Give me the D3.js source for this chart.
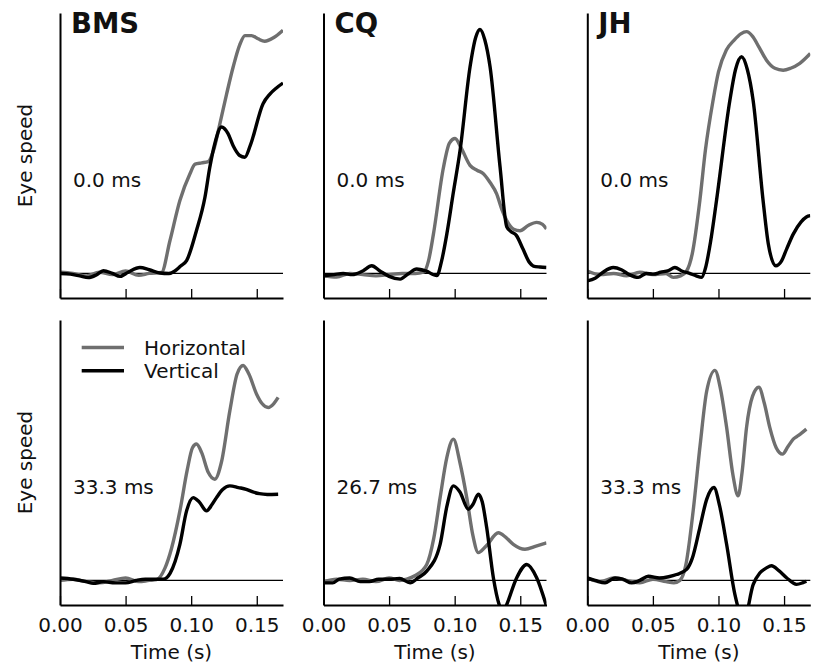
<!DOCTYPE html>
<html>
<head>
<meta charset="utf-8">
<script src="https://cdn.jsdelivr.net/npm/d3@7"></script>
<style>
  body { margin: 0; background: #fff; }
  svg text { font-family: "DejaVu Sans", sans-serif; fill: #111; }
</style>
</head>
<body>
<svg id="chart" width="813" height="665"></svg>
<script>
// Eye speed traces, [time (s), speed (arbitrary units)]
const subjects = ["BMS", "CQ", "JH"];
const delaysTop = ["0.0 ms", "0.0 ms", "0.0 ms"];
const delaysBottom = ["33.3 ms", "26.7 ms", "33.3 ms"];
const xTicks = [0.00, 0.05, 0.10, 0.15];
const seriesNames = ["Horizontal", "Vertical"];

const bmsTopH = [[0,0.005],[0.01,0.0],[0.02,-0.01],[0.03,0.005],[0.04,-0.005],[0.05,0.01],[0.06,-0.008],[0.068,0.0],[0.0774,0.004],[0.0838,0.133],[0.0914,0.297],[0.099,0.405],[0.103,0.445],[0.108,0.45],[0.113,0.455],[0.117,0.5],[0.1219,0.61],[0.127,0.73],[0.132,0.84],[0.137,0.93],[0.141,0.968],[0.146,0.968],[0.151,0.955],[0.156,0.945],[0.163,0.96],[0.17,0.99]];
const bmsTopV = [[0,0.0],[0.008,-0.003],[0.015,-0.01],[0.0216,-0.017],[0.028,-0.005],[0.033,0.011],[0.04,0.0],[0.0457,-0.012],[0.052,0.005],[0.0609,0.024],[0.068,0.015],[0.0761,0.002],[0.083,0.0],[0.0876,0.01],[0.092,0.03],[0.0965,0.052],[0.104,0.174],[0.1105,0.31],[0.1142,0.432],[0.118,0.528],[0.1231,0.596],[0.128,0.57],[0.132,0.52],[0.137,0.48],[0.1409,0.473],[0.145,0.52],[0.1548,0.691],[0.16,0.73],[0.165,0.755],[0.17,0.775]];

const cqTopH = [[0,-0.01],[0.01,-0.015],[0.02,0.0],[0.03,-0.005],[0.04,-0.01],[0.05,-0.005],[0.06,0.0],[0.07,0.0],[0.0762,0.005],[0.08,0.05],[0.0838,0.16],[0.0914,0.43],[0.096,0.53],[0.1003,0.549],[0.105,0.51],[0.1117,0.44],[0.117,0.42],[0.1219,0.406],[0.127,0.37],[0.132,0.324],[0.136,0.26],[0.1397,0.215],[0.145,0.18],[0.1498,0.174],[0.156,0.195],[0.1625,0.208],[0.167,0.2],[0.17,0.181]];
const cqTopV = [[0,-0.01],[0.008,-0.005],[0.015,0.0],[0.022,-0.005],[0.03,0.01],[0.0368,0.031],[0.043,0.01],[0.05,-0.012],[0.0584,-0.023],[0.065,0.0],[0.071,0.018],[0.078,0.01],[0.0864,-0.009],[0.09,0.05],[0.094,0.16],[0.099,0.33],[0.1041,0.5],[0.1117,0.84],[0.116,0.96],[0.1193,0.993],[0.123,0.95],[0.127,0.84],[0.1346,0.433],[0.1397,0.19],[0.143,0.17],[0.147,0.155],[0.152,0.1],[0.157,0.045],[0.16,0.03],[0.165,0.026],[0.17,0.024]];

const jhTopH = [[0,0.01],[0.01,-0.005],[0.02,0.0],[0.03,-0.01],[0.04,0.005],[0.05,-0.005],[0.06,0.0],[0.0655,-0.016],[0.071,-0.01],[0.0757,0.01],[0.08,0.08],[0.0858,0.297],[0.09,0.5],[0.0959,0.705],[0.1,0.82],[0.106,0.909],[0.112,0.95],[0.117,0.975],[0.1214,0.984],[0.126,0.965],[0.131,0.92],[0.1366,0.868],[0.143,0.835],[0.1493,0.827],[0.155,0.835],[0.162,0.855],[0.17,0.895]];
const jhTopV = [[0,-0.03],[0.006,-0.02],[0.012,0.005],[0.0198,0.024],[0.026,0.015],[0.032,-0.005],[0.0388,-0.016],[0.045,0.0],[0.05,-0.003],[0.056,0.005],[0.062,0.012],[0.0668,0.024],[0.072,0.01],[0.078,0.0],[0.083,-0.01],[0.0871,-0.016],[0.09,0.02],[0.094,0.13],[0.0985,0.297],[0.1087,0.705],[0.113,0.83],[0.1176,0.882],[0.122,0.83],[0.1264,0.705],[0.134,0.297],[0.138,0.12],[0.1437,0.031],[0.148,0.05],[0.152,0.1],[0.157,0.16],[0.163,0.21],[0.167,0.23],[0.17,0.235]];

const bmsBottomH = [[0,0.0],[0.01,0.005],[0.02,-0.005],[0.03,-0.01],[0.04,0.0],[0.05,0.01],[0.06,-0.005],[0.068,0.0],[0.0736,0.003],[0.08,0.05],[0.085,0.13],[0.0914,0.283],[0.097,0.45],[0.101,0.54],[0.104,0.555],[0.108,0.52],[0.113,0.44],[0.118,0.412],[0.123,0.48],[0.1295,0.691],[0.135,0.84],[0.1396,0.875],[0.144,0.84],[0.1498,0.759],[0.154,0.72],[0.1587,0.704],[0.163,0.72],[0.1663,0.745]];
const bmsBottomV = [[0,0.01],[0.01,0.005],[0.02,-0.005],[0.0254,-0.012],[0.033,-0.005],[0.042,-0.01],[0.05,-0.01],[0.058,0.0],[0.065,0.005],[0.072,0.005],[0.0787,0.005],[0.084,0.03],[0.0914,0.147],[0.0965,0.283],[0.1015,0.337],[0.106,0.32],[0.1117,0.283],[0.116,0.31],[0.1193,0.337],[0.124,0.37],[0.1295,0.385],[0.136,0.378],[0.142,0.371],[0.147,0.36],[0.152,0.353],[0.158,0.35],[0.1663,0.351]];

const cqBottomH = [[0,-0.005],[0.01,0.005],[0.02,0.0],[0.03,0.005],[0.04,-0.005],[0.05,0.01],[0.058,0.0],[0.0635,0.005],[0.07,0.02],[0.0787,0.065],[0.084,0.17],[0.0889,0.337],[0.094,0.5],[0.099,0.575],[0.104,0.48],[0.1092,0.337],[0.114,0.18],[0.118,0.113],[0.124,0.14],[0.1333,0.194],[0.139,0.175],[0.1447,0.147],[0.1536,0.127],[0.162,0.14],[0.17,0.153]];
const cqBottomV = [[0,-0.01],[0.007,-0.01],[0.012,0.005],[0.02,0.01],[0.028,-0.005],[0.035,-0.005],[0.042,0.005],[0.05,0.005],[0.058,0.008],[0.066,-0.01],[0.072,0.01],[0.0787,0.038],[0.0889,0.147],[0.094,0.3],[0.099,0.385],[0.104,0.36],[0.1104,0.29],[0.114,0.31],[0.118,0.351],[0.121,0.32],[0.1244,0.215],[0.1295,0.011],[0.134,-0.1],[0.137,-0.13],[0.1397,-0.098],[0.1473,0.011],[0.155,0.065],[0.1625,0.011],[0.17,-0.105]];

const jhBottomH = [[0,0.01],[0.01,-0.005],[0.02,0.01],[0.03,0.0],[0.04,-0.01],[0.05,0.005],[0.06,-0.005],[0.066,-0.01],[0.0706,0.0],[0.075,0.06],[0.0807,0.283],[0.086,0.55],[0.091,0.77],[0.0973,0.855],[0.1015,0.78],[0.1062,0.623],[0.111,0.43],[0.115,0.344],[0.118,0.44],[0.1214,0.623],[0.126,0.75],[0.1308,0.786],[0.135,0.72],[0.1391,0.623],[0.144,0.54],[0.1488,0.514],[0.153,0.545],[0.157,0.575],[0.161,0.59],[0.167,0.616]];
const jhBottomV = [[0,0.01],[0.006,0.0],[0.0135,-0.01],[0.0211,0.01],[0.027,0.005],[0.0338,-0.01],[0.04,0.0],[0.0465,0.017],[0.055,0.01],[0.062,0.015],[0.068,0.024],[0.0757,0.045],[0.08,0.09],[0.0858,0.215],[0.091,0.33],[0.0965,0.378],[0.101,0.3],[0.1062,0.147],[0.1125,-0.057],[0.1195,-0.16],[0.1265,-0.016],[0.1315,0.03],[0.1366,0.051],[0.1404,0.06],[0.146,0.04],[0.1519,0.011],[0.1595,-0.016],[0.164,-0.01],[0.167,-0.003]];

const topRow = [[bmsTopH, bmsTopV], [cqTopH, cqTopV], [jhTopH, jhTopV]];
const bottomRow = [[bmsBottomH, bmsBottomV], [cqBottomH, cqBottomV], [jhBottomH, jhBottomV]];

// ---- layout ----
const colLeft = [60, 323.5, 587.3];
const rowTop = [13, 320];
const plotW = 223, plotH = 285;
const colors = ["#6f6f6f", "#000000"];

const svg = d3.select("#chart");

const x = d3.scaleLinear().domain([0, 0.17]).range([0, plotW]);
const y = d3.scaleLinear().domain([-0.1, 1.06]).range([plotH, 0]);

const line = d3.line()
  .x(d => x(d[0]))
  .y(d => y(d[1]))
  .curve(d3.curveMonotoneX);

[topRow, bottomRow].forEach((rowData, r) => {
  rowData.forEach((pair, c) => {
    const g = svg.append("g")
      .attr("transform", `translate(${colLeft[c]},${rowTop[r]})`);

    const clipId = `clip-${r}-${c}`;
    g.append("clipPath").attr("id", clipId)
      .append("rect").attr("x", 0).attr("y", 0)
      .attr("width", plotW).attr("height", plotH);

    // zero-speed reference line
    g.append("line")
      .attr("x1", 0).attr("x2", plotW)
      .attr("y1", y(0)).attr("y2", y(0))
      .attr("stroke", "#000").attr("stroke-width", 1.2);

    // speed traces: horizontal first, vertical on top
    const traces = g.append("g").attr("clip-path", `url(#${clipId})`);
    pair.forEach((series, i) => {
      traces.append("path")
        .datum(series)
        .attr("d", line)
        .attr("fill", "none")
        .attr("stroke", colors[i])
        .attr("stroke-width", 3.4)
        .attr("stroke-linejoin", "round")
        .attr("stroke-linecap", "butt");
    });

    // bottom axis with inward ticks
    const xAxis = d3.axisBottom(x)
      .tickValues(xTicks)
      .tickSize(-9)
      .tickSizeOuter(0)
      .tickPadding(13)
      .tickFormat(r === 1 ? d3.format(".2f") : () => "");
    const ax = g.append("g")
      .attr("transform", `translate(0,${plotH})`)
      .call(xAxis);
    ax.select(".domain").attr("stroke", "#000").attr("stroke-width", 2);
    ax.selectAll(".tick line").attr("stroke", "#000").attr("stroke-width", 1.3);
    ax.selectAll(".tick text")
      .attr("font-family", "DejaVu Sans")
      .attr("font-size", 20)
      .attr("fill", "#111");

    // left spine, no ticks
    const yAxis = d3.axisLeft(y).tickValues([]).tickSizeOuter(0);
    const ay = g.append("g").call(yAxis);
    ay.select(".domain").attr("stroke", "#000").attr("stroke-width", 2);

    // delay annotation
    g.append("text")
      .attr("x", 13)
      .attr("y", y(0.35))
      .attr("font-size", 20)
      .text(r === 0 ? delaysTop[c] : delaysBottom[c]);

    if (r === 0) {
      g.append("text")
        .attr("x", 11)
        .attr("y", 20)
        .attr("font-size", 27.5)
        .attr("font-weight", "bold")
        .attr("fill", "#000")
        .text(subjects[c]);
    } else {
      g.append("text")
        .attr("x", plotW / 2)
        .attr("y", plotH + 54)
        .attr("text-anchor", "middle")
        .attr("font-size", 20)
        .text("Time (s)");
    }

    if (c === 0) {
      g.append("text")
        .attr("transform", `translate(-28,${plotH / 2}) rotate(-90)`)
        .attr("text-anchor", "middle")
        .attr("font-size", 20)
        .text("Eye speed");
    }

    // legend in the lower-left panel
    if (r === 1 && c === 0) {
      const lg = g.append("g");
      seriesNames.forEach((name, i) => {
        const ly = 27.5 + i * 23.3;
        lg.append("line")
          .attr("x1", 21.7).attr("x2", 64)
          .attr("y1", ly).attr("y2", ly)
          .attr("stroke", colors[i]).attr("stroke-width", 3.4);
        lg.append("text")
          .attr("x", 84)
          .attr("y", ly + 7.3)
          .attr("font-size", 20)
          .text(name);
      });
    }
  });
});
</script>
</body>
</html>
